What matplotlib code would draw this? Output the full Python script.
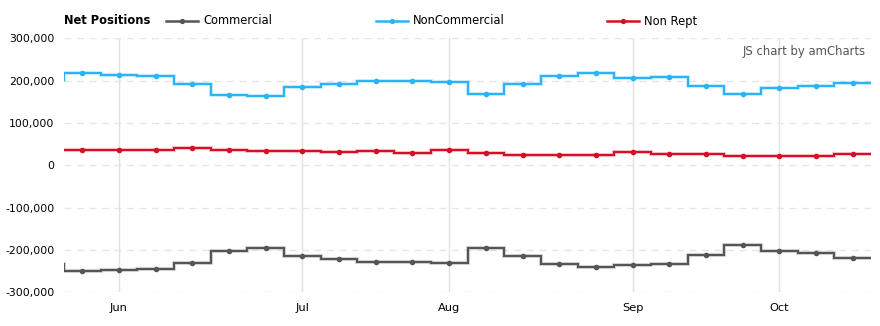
import numpy as np
import matplotlib
matplotlib.use('Agg')
import matplotlib.pyplot as plt
from matplotlib.lines import Line2D
from matplotlib.ticker import FuncFormatter

# weekly report dates (first one sits just left of the visible window)
dates = ['2021-05-18', '2021-05-25',
         '2021-06-01', '2021-06-08', '2021-06-15', '2021-06-22', '2021-06-29',
         '2021-07-06', '2021-07-13', '2021-07-20', '2021-07-27',
         '2021-08-03', '2021-08-10', '2021-08-17', '2021-08-24', '2021-08-31',
         '2021-09-07', '2021-09-14', '2021-09-21', '2021-09-28',
         '2021-10-05', '2021-10-12', '2021-10-19']

commercial = [-232000, -250000, -247000, -245000, -230000, -202000, -196000,
              -214000, -221000, -229000, -229000, -231000, -196000, -214000,
              -233000, -240000, -236000, -233000, -211000, -188000, -202000,
              -206000, -219000]
non_commercial = [201000, 217000, 214000, 211000, 193000, 166000, 164000,
                  184000, 193000, 198000, 199000, 197000, 169000, 192000,
                  211000, 218000, 206000, 209000, 188000, 169000, 183000,
                  188000, 195000]
non_rept = [37000, 37000, 37000, 37000, 42000, 37000, 34000,
            34000, 31500, 34000, 29000, 37000, 29000, 24500,
            24500, 24500, 31500, 27000, 27000, 22000, 22000,
            22000, 27000]

series = [('Commercial', commercial, '#555555'),
          ('NonCommercial', non_commercial, '#2ab4f5'),
          ('Non Rept', non_rept, '#d50f25')]

month_names = ['Jan', 'Feb', 'Mar', 'Apr', 'May', 'Jun', 'Jul', 'Aug',
               'Sep', 'Oct', 'Nov', 'Dec']

plt.rcParams['font.family'] = ['DejaVu Sans']
fig = plt.figure(figsize=(8.8, 3.26), dpi=100)
ax = fig.add_axes([0.0727, 0.1034, 0.9171, 0.7791])

idx = np.arange(len(dates)) - 1
edges = np.arange(len(dates) + 1) - 1.5

for name, vals, col in series:
    ax.stairs(vals, edges, baseline=None, color=col, lw=3.0, alpha=0.18, zorder=2)
    ax.stairs(vals, edges, baseline=None, color=col, lw=1.6, zorder=3)
    ax.plot(idx, vals, 'o', ms=3.0, color=col, zorder=4)

# month ticks at the first report of each month
ticks, labels = [], []
prev = None
for i, d in zip(idx, dates):
    m = int(d[5:7])
    if prev is not None and m != prev and i >= 0:
        ticks.append(i)
        labels.append(month_names[m - 1])
    prev = m
ax.set_xticks(ticks)
ax.set_xticklabels(labels, fontsize=8.2)
for t in ticks:
    ax.axvline(t, color='#e2e2e2', lw=1, zorder=1)

ax.set_xlim(-0.5, len(dates) - 1.5)
ax.set_ylim(-300000, 300000)
ax.set_yticks(np.arange(-300000, 300001, 100000))
ax.yaxis.set_major_formatter(FuncFormatter(lambda v, p: '{:,.0f}'.format(v)))
ax.yaxis.grid(True, color='#e6e6e6', lw=1, ls=(0, (5, 4)), zorder=0)
ax.tick_params(length=0, colors='#000000')
ax.tick_params(axis='y', pad=7, labelsize=7.8)
ax.tick_params(axis='x', pad=8)
for s in ax.spines.values():
    s.set_visible(False)

# legend row
yl = 1 - 21 / 326
fig.text(64 / 880, yl, 'Net Positions', fontsize=8.3, fontweight='bold',
         va='center', ha='left')
legend_x = [166, 376, 607]
for (name, vals, col), lx in zip(series, legend_x):
    fig.add_artist(Line2D([lx / 880, (lx + 32) / 880], [yl, yl], color=col, lw=1.8,
                          transform=fig.transFigure))
    fig.add_artist(Line2D([(lx + 16) / 880], [yl], marker='o', ms=2.8, color=col,
                          transform=fig.transFigure))
    fig.text((lx + 37) / 880, yl, name, fontsize=8.3, va='center', ha='left')

fig.text(866 / 880, 1 - 51 / 326, 'JS chart by amCharts', fontsize=8.4,
         color='#555555', ha='right', va='center')

fig.savefig('out.png', dpi=100)
